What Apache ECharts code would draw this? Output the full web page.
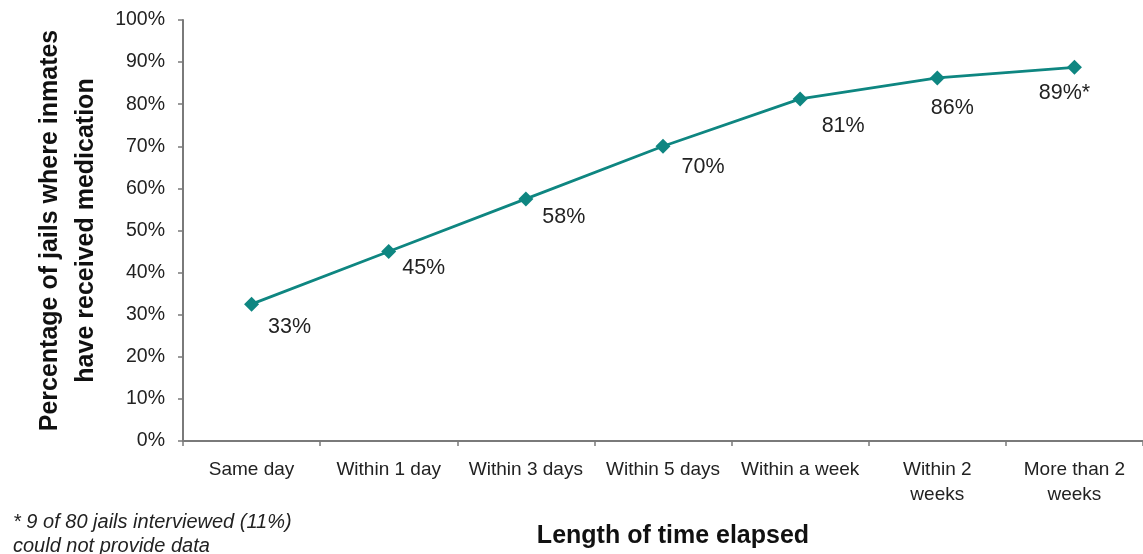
<!DOCTYPE html>
<html>
<head>
<meta charset="utf-8">
<script src="https://cdn.jsdelivr.net/npm/echarts@6/dist/echarts.min.js"></script>
<style>
html,body{margin:0;padding:0;background:#fff;}
#c{width:1143px;height:554px;}
</style>
</head>
<body>
<div id="c"></div>
<script>
var categories = ['Same day', 'Within 1 day', 'Within 3 days', 'Within 5 days', 'Within a week', 'Within 2\nweeks', 'More than 2\nweeks'];
var values = [32.5, 45, 57.5, 70, 81.25, 86.25, 88.75];
var valueLabels = ['33%', '45%', '58%', '70%', '81%', '86%', '89%*'];
var yTicks = [0, 10, 20, 30, 40, 50, 60, 70, 80, 90, 100];

var labelOffsets = [[38, 23], [35, 17], [38, 18], [40, 21], [43, 27], [15, 30], [-10, 26]];
var teal = '#0E8681';
var font = '"Liberation Sans", Arial, sans-serif';

var chart = echarts.init(document.getElementById('c'));
chart.setOption({
  backgroundColor: '#fff',
  animation: false,
  grid: { left: 183, top: 20, width: 966, height: 421, containLabel: false },
  xAxis: {
    type: 'category',
    data: categories,
    boundaryGap: true,
    axisLine: { lineStyle: { color: '#7a7a7a', width: 2 } },
    axisTick: { show: true, length: 5, lineStyle: { color: '#7a7a7a', width: 1.5 } },
    axisLabel: { color: '#222', fontSize: 19, fontFamily: font, margin: 16, lineHeight: 25, interval: 0 },
    name: 'Length of time elapsed',
    nameLocation: 'middle',
    nameGap: 83,
    nameTextStyle: { color: '#111', fontSize: 25, fontWeight: 'bold', fontFamily: font, padding: [0, 0, 0, 20] }
  },
  yAxis: {
    type: 'value',
    min: 0, max: 100, interval: 10,
    splitLine: { show: false },
    axisLine: { show: true, lineStyle: { color: '#7a7a7a', width: 2 } },
    axisTick: { show: true, length: 5, lineStyle: { color: '#7a7a7a', width: 1.5 } },
    axisLabel: {
      color: '#222', fontSize: 19.5, fontFamily: font, margin: 18,
      formatter: function (v) { return yTicks.indexOf(v) >= 0 ? v + '%' : ''; }
    },
    name: 'Percentage of jails where inmates\nhave received medication',
    nameLocation: 'middle',
    nameGap: 73,
    nameTextStyle: { color: '#111', fontSize: 25, fontWeight: 'bold', fontFamily: font, lineHeight: 36 }
  },
  series: [{
    type: 'line',
    data: values.map(function (v, i) {
      return {
        value: v,
        label: {
          show: true,
          position: 'inside',
          offset: labelOffsets[i],
          formatter: valueLabels[i]
        }
      };
    }),
    symbol: 'diamond',
    symbolSize: 15,
    lineStyle: { color: teal, width: 2.8 },
    itemStyle: { color: teal },
    label: { color: '#222', fontSize: 21.5, fontFamily: font }
  }],
  graphic: [
    { type: 'text', left: 13, top: 512, style: { text: '* 9 of 80 jails interviewed (11%)', font: 'italic 20px "Liberation Sans", Arial, sans-serif', fill: '#222' } },
    { type: 'text', left: 13, top: 536, style: { text: 'could not provide data', font: 'italic 20px "Liberation Sans", Arial, sans-serif', fill: '#222' } }
  ]
});
</script>
</body>
</html>
